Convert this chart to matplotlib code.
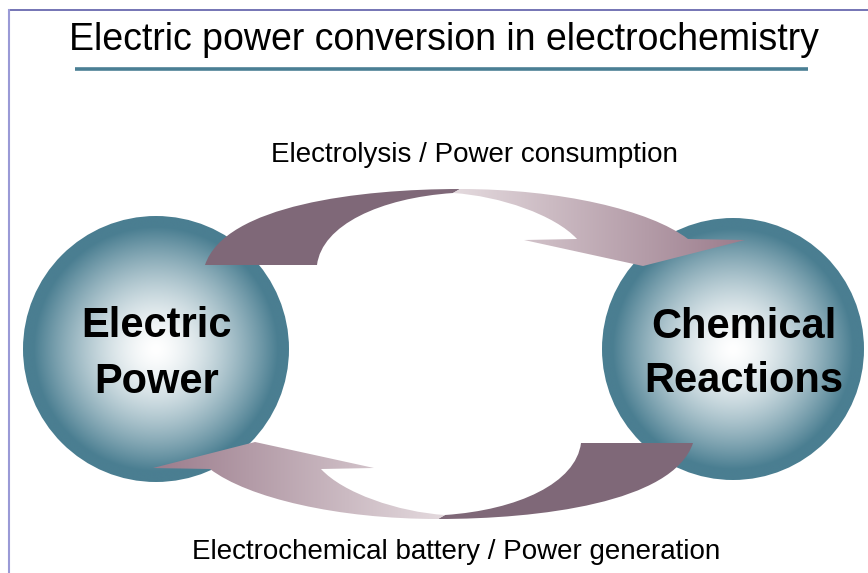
"""Electric power conversion diagram (electrolysis vs. battery)."""
import numpy as np
import matplotlib
matplotlib.use("Agg")
import matplotlib.pyplot as plt
from matplotlib.path import Path
from matplotlib.patches import PathPatch, Circle
from matplotlib.colors import to_rgb
from matplotlib.transforms import Affine2D

W, H = 868, 573

# texts
title = "Electric power conversion in electrochemistry"
top_label = "Electrolysis / Power consumption"
bottom_label = "Electrochemical battery / Power generation"
node_lines = [["Electric", "Power"], ["Chemical", "Reactions"]]

# nodes (pixel coords, y down)
node_centers = [(156, 349), (733, 349)]
node_radii = [133, 131]
node_baselines = [[337, 393], [338, 392]]
node_text_x = [157, 744]

# top arrow outline; the bottom arrow is the same shape turned 180 degrees
outer_left = [(205, 265), (225, 205), (360, 189), (460, 189)]
outer_right = [(460, 189), (560, 189), (650, 210), (688, 239)]
inner_left = [(317, 265), (322, 225), (380, 198), (453, 193)]
inner_right = [(453, 193), (500, 196), (555, 215), (577, 239)]
head = [(745, 240), (643, 266), (524, 240)]
turn_center = (449, 354)

teal = "#4a7e91"
mauve_dark = "#7f6878"
mauve_light = "#e4dade"
mauve_head = "#9b7c8c"


def radial_ball(ax, center, radius):
    cx, cy = center
    n = 400
    xs = np.linspace(-1, 1, n)
    xx, yy = np.meshgrid(xs, xs)
    t = np.clip(np.hypot(xx, yy) / 0.92, 0, 1) ** 1.5
    c0 = np.array([1.0, 1.0, 1.0])
    c1 = np.array(to_rgb(teal))
    img = c0[None, None, :] + (c1 - c0)[None, None, :] * t[..., None]
    im = ax.imshow(img, extent=[cx - radius, cx + radius, cy + radius, cy - radius],
                   interpolation="bilinear", zorder=1)
    clip = Circle((cx, cy), radius, transform=ax.transData, facecolor="none",
                  edgecolor="none")
    ax.add_patch(clip)
    im.set_clip_path(clip)


def linear_fill(ax, path, x_light, x_dark, y0, y1):
    n = 300
    t = np.linspace(0, 1, n)
    c0 = np.array(to_rgb(mauve_light))
    c1 = np.array(to_rgb(mauve_head))
    row = c0[None, :] + (c1 - c0)[None, :] * t[:, None]
    if x_dark < x_light:
        row = row[::-1]
    img = np.repeat(row[None, :, :], 2, axis=0)
    xa, xb = sorted([x_light, x_dark])
    im = ax.imshow(img, extent=[xa, xb, max(y0, y1), min(y0, y1)],
                   interpolation="bilinear", aspect="auto", zorder=3)
    patch = PathPatch(path, facecolor="none", edgecolor="none", transform=ax.transData)
    ax.add_patch(patch)
    im.set_clip_path(patch)


def arrow_paths():
    C4 = Path.CURVE4
    dark_verts = outer_left + [inner_left[3], inner_left[2], inner_left[1], inner_left[0], outer_left[0]]
    dark_codes = [Path.MOVETO, C4, C4, C4, Path.LINETO, C4, C4, C4, Path.CLOSEPOLY]
    light_verts = (outer_right + head + [inner_right[3], inner_right[2], inner_right[1], inner_right[0],
                                          outer_right[0]])
    light_codes = ([Path.MOVETO, C4, C4, C4] + [Path.LINETO] * 3 +
                   [Path.LINETO, C4, C4, C4, Path.CLOSEPOLY])
    return Path(dark_verts, dark_codes), Path(light_verts, light_codes)


fig = plt.figure(figsize=(W / 100, H / 100), dpi=100)
ax = fig.add_axes([0, 0, 1, 1])
ax.set_xlim(0, W)
ax.set_ylim(H, 0)
ax.axis("off")

# slide frame
ax.plot([8.5, W], [9.5, 9.5], color="#5c5ca8", lw=1.2, zorder=5)
ax.plot([8.5, 8.5], [9.5, H], color="#9a9ad6", lw=1.5, zorder=5)

# title + rule
ax.text(444, 50, title, ha="center", va="baseline", fontsize=27,
        family=["Liberation Sans", "DejaVu Sans"], color="black")
ax.plot([75, 808], [68.5, 68.5], color="#4a7f94", lw=2.6, solid_capstyle="butt")

for c, r in zip(node_centers, node_radii):
    radial_ball(ax, c, r)

dark_top, light_top = arrow_paths()
turn = Affine2D().rotate_deg_around(turn_center[0], turn_center[1], 180)
for k, (dp, lp) in enumerate([(dark_top, light_top),
                              (dark_top.transformed(turn), light_top.transformed(turn))]):
    ax.add_patch(PathPatch(dp, facecolor=mauve_dark, edgecolor="none", zorder=3))
    ext = lp.get_extents()
    if k == 0:
        linear_fill(ax, lp, ext.x0, ext.x1, ext.y0, ext.y1)
    else:
        linear_fill(ax, lp, ext.x1, ext.x0, ext.y0, ext.y1)

ax.text(474, 162, top_label, ha="center", va="baseline", fontsize=20,
        family=["Liberation Sans", "DejaVu Sans"])
ax.text(456, 559, bottom_label, ha="center", va="baseline", fontsize=20,
        family=["Liberation Sans", "DejaVu Sans"])

for lines, ys, x in zip(node_lines, node_baselines, node_text_x):
    for s, y in zip(lines, ys):
        ax.text(x, y, s, ha="center", va="baseline", fontsize=30, fontweight="bold",
                family=["Liberation Sans", "DejaVu Sans"], zorder=6)

fig.savefig("out.png", dpi=100)
